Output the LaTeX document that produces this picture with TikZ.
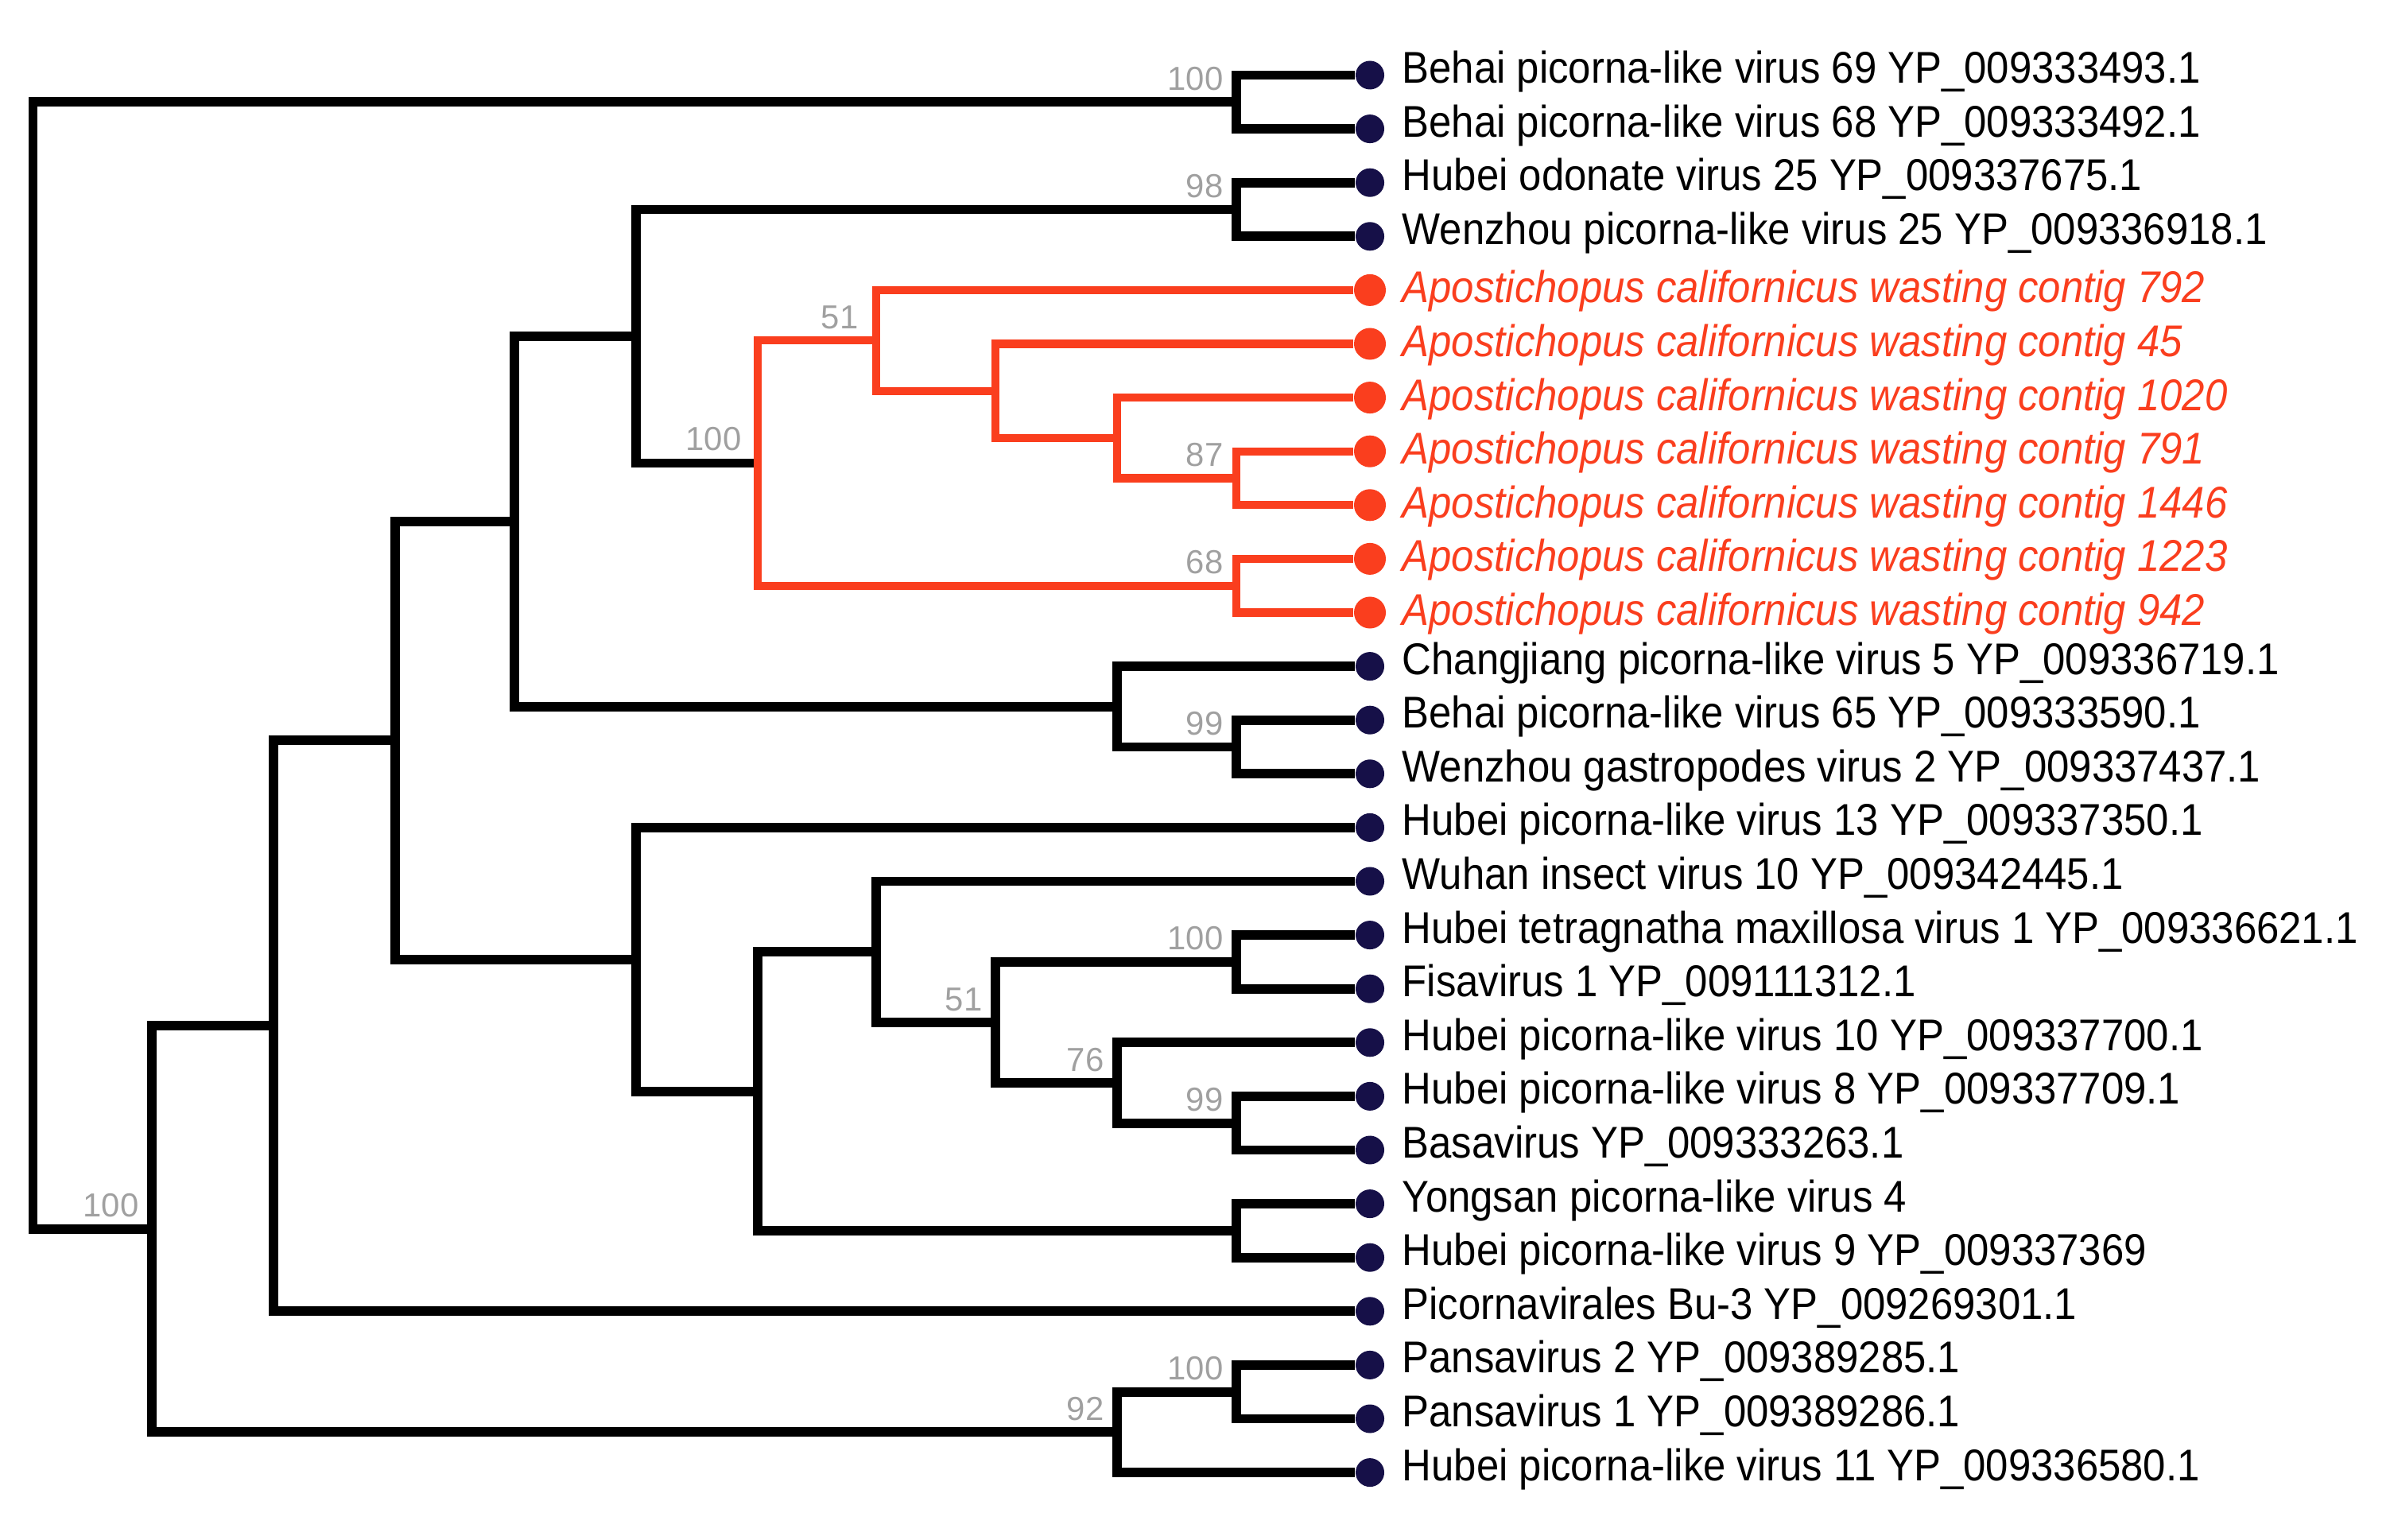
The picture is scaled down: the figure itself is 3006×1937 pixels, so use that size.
\documentclass[tikz,border=0pt]{standalone}
\usepackage{fontspec}
\setmainfont{Liberation Sans}
\newfontfamily\taxfont{Liberation Sans}[FakeStretch=0.91]
\usepackage{tikz}
\usetikzlibrary{calc}

\definecolor{apored}{RGB}{250,62,30}
\definecolor{tipnavy}{RGB}{22,16,72}
\definecolor{bootgray}{RGB}{160,160,160}

\tikzset{
  branch/.style={line width=3.4pt, black, line join=miter},
  redbranch/.style={line width=2.85pt, apored, line join=miter},
  tip/.style={circle, fill=tipnavy, inner sep=0pt, minimum size=3.6mm},
  redtip/.style={circle, fill=apored, inner sep=0pt, minimum size=4mm},
  taxon/.style={anchor=base west, inner sep=0pt, font=\taxfont\fontsize{15.9}{18}\selectfont},
  redtaxon/.style={taxon, text=apored, font=\taxfont\itshape\fontsize{15.9}{18}\selectfont},
  boot/.style={anchor=base east, inner sep=0pt, text=bootgray, font=\fontsize{11.9}{14}\selectfont}
}

\begin{document}
\begin{tikzpicture}[x=0.01cm, y=-0.01cm]
        \useasboundingbox (0,0) rectangle (3006,1937);

        % inner nodes
        \coordinate (root) at (41.5,837.1);
        \coordinate (bei)  at (1555,128.3);
        \coordinate (low)  at (191,1545.9);
        \coordinate (pic)  at (344,1290.3);
        \coordinate (mid)  at (497,931.3);
        \coordinate (ud)   at (647,655.9);
        \coordinate (up)   at (800,423.0);
        \coordinate (odo)  at (1555,263.5);
        \coordinate (apo)  at (953,582.5);
        \coordinate (apo1) at (1102,428.3);
        \coordinate (apo2) at (1252,491.7);
        \coordinate (apo3) at (1405,550.8);
        \coordinate (apo4) at (1555,601.5);
        \coordinate (apo5) at (1555,736.7);
        \coordinate (chj)  at (1405,888.8);
        \coordinate (bwz)  at (1555,939.5);
        \coordinate (hub)  at (800,1206.7);
        \coordinate (hbi)  at (953,1372.6);
        \coordinate (wuh)  at (1102,1197.2);
        \coordinate (fis)  at (1252,1286.0);
        \coordinate (tet)  at (1555,1209.9);
        \coordinate (h10)  at (1405,1362.0);
        \coordinate (bas)  at (1555,1412.7);
        \coordinate (yon)  at (1555,1547.9);
        \coordinate (pan2) at (1405,1801.4);
        \coordinate (pan)  at (1555,1750.7);

        % tips
        \node[tip] (t1) at (1723,94.5) {};
        \node[tip] (t2) at (1723,162.1) {};
        \node[tip] (t3) at (1723,229.7) {};
        \node[tip] (t4) at (1723,297.3) {};
        \node[redtip] (t5) at (1723,364.9) {};
        \node[redtip] (t6) at (1723,432.5) {};
        \node[redtip] (t7) at (1723,500.1) {};
        \node[redtip] (t8) at (1723,567.7) {};
        \node[redtip] (t9) at (1723,635.3) {};
        \node[redtip] (t10) at (1723,702.9) {};
        \node[redtip] (t11) at (1723,770.5) {};
        \node[tip] (t12) at (1723,838.1) {};
        \node[tip] (t13) at (1723,905.7) {};
        \node[tip] (t14) at (1723,973.3) {};
        \node[tip] (t15) at (1723,1040.9) {};
        \node[tip] (t16) at (1723,1108.5) {};
        \node[tip] (t17) at (1723,1176.1) {};
        \node[tip] (t18) at (1723,1243.7) {};
        \node[tip] (t19) at (1723,1311.3) {};
        \node[tip] (t20) at (1723,1378.9) {};
        \node[tip] (t21) at (1723,1446.5) {};
        \node[tip] (t22) at (1723,1514.1) {};
        \node[tip] (t23) at (1723,1581.7) {};
        \node[tip] (t24) at (1723,1649.3) {};
        \node[tip] (t25) at (1723,1716.9) {};
        \node[tip] (t26) at (1723,1784.5) {};
        \node[tip] (t27) at (1723,1852.1) {};

        % names
        \node[taxon] (lab1) at ($(t1)+(40,10)$) {Behai picorna-like virus 69 YP\_009333493.1};
        \node[taxon] (lab2) at ($(t2)+(40,10)$) {Behai picorna-like virus 68 YP\_009333492.1};
        \node[taxon] (lab3) at ($(t3)+(40,10)$) {Hubei odonate virus 25 YP\_009337675.1};
        \node[taxon] (lab4) at ($(t4)+(40,10)$) {Wenzhou picorna-like virus 25 YP\_009336918.1};
        \node[redtaxon] (lab5) at ($(t5)+(40,16)$) {Apostichopus californicus wasting contig 792};
        \node[redtaxon] (lab6) at ($(t6)+(40,16)$) {Apostichopus californicus wasting contig 45};
        \node[redtaxon] (lab7) at ($(t7)+(40,16)$) {Apostichopus californicus wasting contig 1020};
        \node[redtaxon] (lab8) at ($(t8)+(40,16)$) {Apostichopus californicus wasting contig 791};
        \node[redtaxon] (lab9) at ($(t9)+(40,16)$) {Apostichopus californicus wasting contig 1446};
        \node[redtaxon] (lab10) at ($(t10)+(40,16)$) {Apostichopus californicus wasting contig 1223};
        \node[redtaxon] (lab11) at ($(t11)+(40,16)$) {Apostichopus californicus wasting contig 942};
        \node[taxon] (lab12) at ($(t12)+(40,10)$) {Changjiang picorna-like virus 5 YP\_009336719.1};
        \node[taxon] (lab13) at ($(t13)+(40,10)$) {Behai picorna-like virus 65 YP\_009333590.1};
        \node[taxon] (lab14) at ($(t14)+(40,10)$) {Wenzhou gastropodes virus 2 YP\_009337437.1};
        \node[taxon] (lab15) at ($(t15)+(40,10)$) {Hubei picorna-like virus 13 YP\_009337350.1};
        \node[taxon] (lab16) at ($(t16)+(40,10)$) {Wuhan insect virus 10 YP\_009342445.1};
        \node[taxon] (lab17) at ($(t17)+(40,10)$) {Hubei tetragnatha maxillosa virus 1 YP\_009336621.1};
        \node[taxon] (lab18) at ($(t18)+(40,10)$) {Fisavirus 1 YP\_009111312.1};
        \node[taxon] (lab19) at ($(t19)+(40,10)$) {Hubei picorna-like virus 10 YP\_009337700.1};
        \node[taxon] (lab20) at ($(t20)+(40,10)$) {Hubei picorna-like virus 8 YP\_009337709.1};
        \node[taxon] (lab21) at ($(t21)+(40,10)$) {Basavirus YP\_009333263.1};
        \node[taxon] (lab22) at ($(t22)+(40,10)$) {Yongsan picorna-like virus 4};
        \node[taxon] (lab23) at ($(t23)+(40,10)$) {Hubei picorna-like virus 9 YP\_009337369};
        \node[taxon] (lab24) at ($(t24)+(40,10)$) {Picornavirales Bu-3 YP\_009269301.1};
        \node[taxon] (lab25) at ($(t25)+(40,10)$) {Pansavirus 2 YP\_009389285.1};
        \node[taxon] (lab26) at ($(t26)+(40,10)$) {Pansavirus 1 YP\_009389286.1};
        \node[taxon] (lab27) at ($(t27)+(40,10)$) {Hubei picorna-like virus 11 YP\_009336580.1};

        % black branches
        \draw[branch] (root) |- (bei);
        \draw[branch] (root) |- (low);
        \draw[branch] (bei) |- (t1);
        \draw[branch] (bei) |- (t2);
        \draw[branch] (low) |- (pic);
        \draw[branch] (low) |- (pan2);
        \draw[branch] (pic) |- (mid);
        \draw[branch] (pic) |- (t24);
        \draw[branch] (mid) |- (ud);
        \draw[branch] (mid) |- (hub);
        \draw[branch] (ud) |- (up);
        \draw[branch] (ud) |- (chj);
        \draw[branch] (up) |- (odo);
        \draw[branch] (up) |- (apo);
        \draw[branch] (odo) |- (t3);
        \draw[branch] (odo) |- (t4);
        \draw[branch] (chj) |- (t12);
        \draw[branch] (chj) |- (bwz);
        \draw[branch] (bwz) |- (t13);
        \draw[branch] (bwz) |- (t14);
        \draw[branch] (hub) |- (t15);
        \draw[branch] (hub) |- (hbi);
        \draw[branch] (hbi) |- (wuh);
        \draw[branch] (hbi) |- (yon);
        \draw[branch] (wuh) |- (t16);
        \draw[branch] (wuh) |- (fis);
        \draw[branch] (fis) |- (tet);
        \draw[branch] (fis) |- (h10);
        \draw[branch] (tet) |- (t17);
        \draw[branch] (tet) |- (t18);
        \draw[branch] (h10) |- (t19);
        \draw[branch] (h10) |- (bas);
        \draw[branch] (bas) |- (t20);
        \draw[branch] (bas) |- (t21);
        \draw[branch] (yon) |- (t22);
        \draw[branch] (yon) |- (t23);
        \draw[branch] (pan2) |- (pan);
        \draw[branch] (pan2) |- (t27);
        \draw[branch] (pan) |- (t25);
        \draw[branch] (pan) |- (t26);

        % red clade
        \draw[redbranch] (apo) |- (apo1);
        \draw[redbranch] (apo) |- (apo5);
        \draw[redbranch] (apo1) |- (t5);
        \draw[redbranch] (apo1) |- (apo2);
        \draw[redbranch] (apo2) |- (t6);
        \draw[redbranch] (apo2) |- (apo3);
        \draw[redbranch] (apo3) |- (t7);
        \draw[redbranch] (apo3) |- (apo4);
        \draw[redbranch] (apo4) |- (t8);
        \draw[redbranch] (apo4) |- (t9);
        \draw[redbranch] (apo5) |- (t10);
        \draw[redbranch] (apo5) |- (t11);

        % bootstrap values
        \node[boot] (b1) at ($(bei)+(-16,-15)$) {100};
        \node[boot] (b2) at ($(odo)+(-16,-15)$) {98};
        \node[boot] (b3) at ($(apo1)+(-22,-15)$) {51};
        \node[boot] (b4) at ($(apo)+(-20,-16)$) {100};
        \node[boot] (b5) at ($(apo4)+(-16,-15)$) {87};
        \node[boot] (b6) at ($(apo5)+(-16,-15)$) {68};
        \node[boot] (b7) at ($(bwz)+(-16,-15)$) {99};
        \node[boot] (b8) at ($(tet)+(-16,-15)$) {100};
        \node[boot] (b9) at ($(fis)+(-16,-15)$) {51};
        \node[boot] (b10) at ($(h10)+(-16,-15)$) {76};
        \node[boot] (b11) at ($(bas)+(-16,-15)$) {99};
        \node[boot] (b12) at ($(pan)+(-16,-15)$) {100};
        \node[boot] (b13) at ($(pan2)+(-16,-15)$) {92};
        \node[boot] (b14) at ($(low)+(-16,-15)$) {100};
\end{tikzpicture}
\end{document}
